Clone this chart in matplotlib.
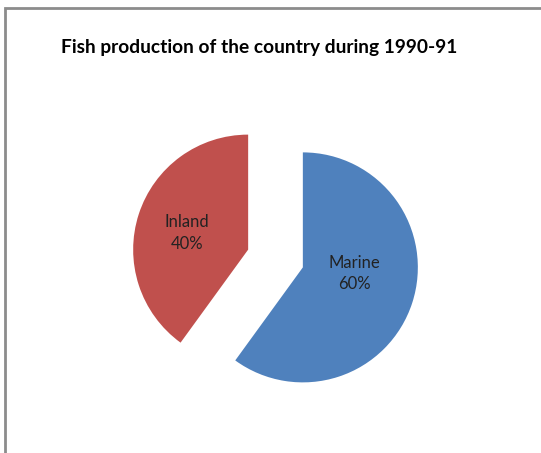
import numpy as np
import matplotlib.pyplot as plt
from matplotlib.patches import Rectangle

# -----------------------------
# DATA
# -----------------------------

labels = ["Marine", "Inland"]
shares = [60, 40]
colors = ["#4F81BD", "#C0504D"]
title = "Fish production of the country during 1990-91"

# -----------------------------
# FIGURE
# -----------------------------

W, H = 541, 453
fig = plt.figure(figsize=(W / 100, H / 100), dpi=100)
ax = fig.add_axes([0, 0, 1, 1])

radius_px = 115.0
cx, cy = 275.5, 453 - 258.5

ax.pie(
    shares,
    colors=colors,
    startangle=90,
    counterclock=False,
    explode=[0.25, 0.25],
    radius=1.0,
    wedgeprops={"linewidth": 0},
)
ax.set_aspect("auto")
ax.set_xlim(-cx / radius_px, (W - cx) / radius_px)
ax.set_ylim(-cy / radius_px, (H - cy) / radius_px)
ax.axis("off")

# slice labels
label_pos = {"Marine": (0.69, -0.13), "Inland": (-0.77, 0.22)}
for name, val in zip(labels, shares):
    x, y = label_pos[name]
    ax.text(x, y, f"{name}\n{val}%", ha="center", va="center",
            fontsize=12, family="Lato", color="#222222", linespacing=1.45)

# title
fig.text(259 / W, 1 - 47 / H, title, ha="center", va="center",
         fontsize=13.8, fontweight="bold", family="Lato", color="black")

# chart area border (cropped on right/bottom)
fig.patches.append(Rectangle((5 / W, -0.1), 1.2, 1 - 8 / H + 0.1,
                             transform=fig.transFigure, fill=False,
                             edgecolor="#8c8c8c", linewidth=2))

fig.savefig("out.png", dpi=100)
